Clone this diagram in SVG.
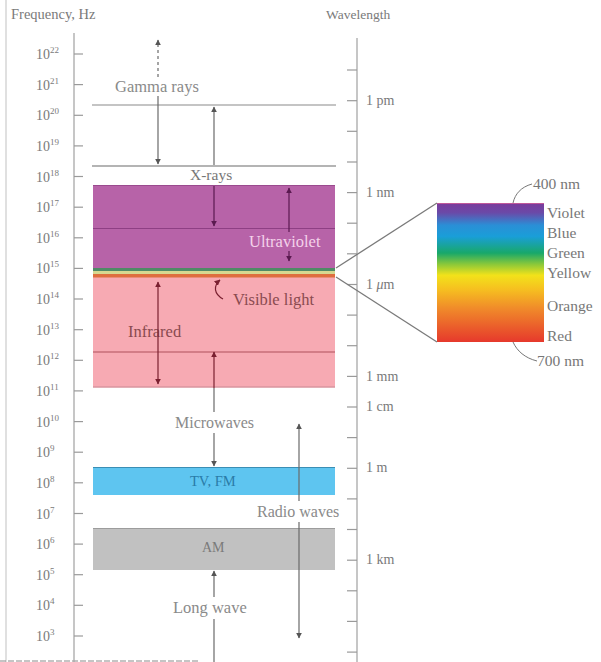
<svg xmlns="http://www.w3.org/2000/svg" width="601" height="662" viewBox="0 0 601 662">
<defs>
<style>
text{font-family:"Liberation Serif","Times New Roman",serif;}
.ax{fill:#7a7a7a;font-size:14px;}
.sup{font-size:9px;}
.lbl{font-size:15.5px;}
.gr{fill:#8a8a8a;}
.tick{stroke:#9a9a9a;stroke-width:1.2;}
.axis{stroke:#a8a8a8;stroke-width:1.3;fill:none;}
.arr{stroke:#6a6a6a;stroke-width:1.2;fill:none;}
.sp{fill:#777;font-size:15.5px;}
</style>
<marker id="ah" viewBox="0 0 10 10" refX="9" refY="5" markerWidth="6" markerHeight="6" orient="auto-start-reverse" markerUnits="userSpaceOnUse"><path d="M0,0 L10,5 L0,10 z" fill="#555"/></marker>
<marker id="ahp" viewBox="0 0 10 10" refX="9" refY="5" markerWidth="6" markerHeight="6" orient="auto-start-reverse" markerUnits="userSpaceOnUse"><path d="M0,0 L10,5 L0,10 z" fill="#5a1a50"/></marker>
<marker id="ahr" viewBox="0 0 10 10" refX="9" refY="5" markerWidth="6" markerHeight="6" orient="auto-start-reverse" markerUnits="userSpaceOnUse"><path d="M0,0 L10,5 L0,10 z" fill="#7a2030"/></marker>
<linearGradient id="spec" x1="0" y1="0" x2="0" y2="1">
<stop offset="0" stop-color="#7b3a9a"/>
<stop offset="0.07" stop-color="#6a4aa8"/>
<stop offset="0.16" stop-color="#2a8fd6"/>
<stop offset="0.24" stop-color="#1a9ed8"/>
<stop offset="0.36" stop-color="#18a86a"/>
<stop offset="0.44" stop-color="#8ac83a"/>
<stop offset="0.52" stop-color="#f2e21a"/>
<stop offset="0.62" stop-color="#f6c020"/>
<stop offset="0.76" stop-color="#f08a2a"/>
<stop offset="1" stop-color="#e6392c"/>
</linearGradient>
</defs>
<rect x="0" y="0" width="601" height="662" fill="#ffffff"/>
<line x1="6" y1="0" x2="6" y2="662" stroke="#d6d6d6" stroke-width="1.5"/>
<line x1="0" y1="661" x2="200" y2="661" stroke="#8a8a8a" stroke-width="1" stroke-dasharray="6,2"/>

<g id="freq-axis">
<text class="ax" x="11" y="19" style="font-size:14.5px">Frequency, Hz</text>
<line class="axis" x1="74" y1="33" x2="74" y2="662"/>
<g class="tick">
<line x1="74" y1="54" x2="83" y2="54"/><line x1="74" y1="84.6" x2="83" y2="84.6"/><line x1="74" y1="115.3" x2="83" y2="115.3"/><line x1="74" y1="145.9" x2="83" y2="145.9"/><line x1="74" y1="176.5" x2="83" y2="176.5"/><line x1="74" y1="207.2" x2="83" y2="207.2"/><line x1="74" y1="237.8" x2="83" y2="237.8"/><line x1="74" y1="268.4" x2="83" y2="268.4"/><line x1="74" y1="299" x2="83" y2="299"/><line x1="74" y1="329.7" x2="83" y2="329.7"/><line x1="74" y1="360.3" x2="83" y2="360.3"/><line x1="74" y1="390.9" x2="83" y2="390.9"/><line x1="74" y1="421.6" x2="83" y2="421.6"/><line x1="74" y1="452.2" x2="83" y2="452.2"/><line x1="74" y1="482.8" x2="83" y2="482.8"/><line x1="74" y1="513.5" x2="83" y2="513.5"/><line x1="74" y1="544.1" x2="83" y2="544.1"/><line x1="74" y1="574.7" x2="83" y2="574.7"/><line x1="74" y1="605.3" x2="83" y2="605.3"/><line x1="74" y1="636" x2="83" y2="636"/>
</g>
<text class="ax" x="36" y="59">10<tspan class="sup" dy="-6">22</tspan></text>
<text class="ax" x="36" y="89.6">10<tspan class="sup" dy="-6">21</tspan></text>
<text class="ax" x="36" y="120.3">10<tspan class="sup" dy="-6">20</tspan></text>
<text class="ax" x="36" y="150.9">10<tspan class="sup" dy="-6">19</tspan></text>
<text class="ax" x="36" y="181.5">10<tspan class="sup" dy="-6">18</tspan></text>
<text class="ax" x="36" y="212.2">10<tspan class="sup" dy="-6">17</tspan></text>
<text class="ax" x="36" y="242.8">10<tspan class="sup" dy="-6">16</tspan></text>
<text class="ax" x="36" y="273.4">10<tspan class="sup" dy="-6">15</tspan></text>
<text class="ax" x="36" y="304">10<tspan class="sup" dy="-6">14</tspan></text>
<text class="ax" x="36" y="334.7">10<tspan class="sup" dy="-6">13</tspan></text>
<text class="ax" x="36" y="365.3">10<tspan class="sup" dy="-6">12</tspan></text>
<text class="ax" x="36" y="395.9">10<tspan class="sup" dy="-6">11</tspan></text>
<text class="ax" x="36" y="426.6">10<tspan class="sup" dy="-6">10</tspan></text>
<text class="ax" x="36" y="457.2">10<tspan class="sup" dy="-6">9</tspan></text>
<text class="ax" x="36" y="487.8">10<tspan class="sup" dy="-6">8</tspan></text>
<text class="ax" x="36" y="518.5">10<tspan class="sup" dy="-6">7</tspan></text>
<text class="ax" x="36" y="549.1">10<tspan class="sup" dy="-6">6</tspan></text>
<text class="ax" x="36" y="579.7">10<tspan class="sup" dy="-6">5</tspan></text>
<text class="ax" x="36" y="610.3">10<tspan class="sup" dy="-6">4</tspan></text>
<text class="ax" x="36" y="641">10<tspan class="sup" dy="-6">3</tspan></text>
</g>

<g id="wave-axis">
<text class="ax" x="326" y="19" style="font-size:13.5px">Wavelength</text>
<line class="axis" x1="357" y1="38" x2="357" y2="662"/>
<g class="tick">
<line x1="347" y1="70" x2="357" y2="70"/><line x1="347" y1="100.7" x2="357" y2="100.7"/><line x1="347" y1="131.3" x2="357" y2="131.3"/><line x1="347" y1="162" x2="357" y2="162"/><line x1="347" y1="192.6" x2="357" y2="192.6"/><line x1="347" y1="223.2" x2="357" y2="223.2"/><line x1="347" y1="253.8" x2="357" y2="253.8"/><line x1="347" y1="284.5" x2="357" y2="284.5"/><line x1="347" y1="315.1" x2="357" y2="315.1"/><line x1="347" y1="345.7" x2="357" y2="345.7"/><line x1="347" y1="376.4" x2="357" y2="376.4"/><line x1="347" y1="407" x2="357" y2="407"/><line x1="347" y1="437.6" x2="357" y2="437.6"/><line x1="347" y1="468.3" x2="357" y2="468.3"/><line x1="347" y1="498.9" x2="357" y2="498.9"/><line x1="347" y1="529.5" x2="357" y2="529.5"/><line x1="347" y1="560.2" x2="357" y2="560.2"/><line x1="347" y1="590.8" x2="357" y2="590.8"/><line x1="347" y1="621.4" x2="357" y2="621.4"/><line x1="347" y1="652.1" x2="357" y2="652.1"/>
</g>
<text class="ax" x="366" y="105">1 pm</text>
<text class="ax" x="366" y="197">1 nm</text>
<text class="ax" x="366" y="289">1 <tspan font-style="italic">μ</tspan>m</text>
<text class="ax" x="366" y="381">1 mm</text>
<text class="ax" x="366" y="411">1 cm</text>
<text class="ax" x="366" y="472">1 m</text>
<text class="ax" x="366" y="564">1 km</text>
</g>

<g id="gamma">
<line x1="92" y1="105" x2="336" y2="105" stroke="#8a8a8a" stroke-width="1.2"/>
<text class="lbl gr" x="115" y="92" style="font-size:16.5px">Gamma rays</text>
</g>

<g id="xray">
<line x1="92" y1="166" x2="336" y2="166" stroke="#6a6a6a" stroke-width="1.2"/>
<text class="lbl" x="190" y="180" style="fill:#777">X-rays</text>
</g>

<g id="ultraviolet">
<rect x="93" y="185" width="242" height="83" fill="#b763a8"/>
<line x1="93" y1="185.5" x2="335" y2="185.5" stroke="#9a4a8e" stroke-width="1"/>
<line x1="93" y1="228.5" x2="335" y2="228.5" stroke="#8e3f84" stroke-width="1.2"/>
<text class="lbl" x="249" y="247" style="fill:#f4d2ea;font-size:16.5px">Ultraviolet</text>
</g>

<g id="infrared">
<rect x="93" y="277" width="242" height="110.5" fill="#f7aab3"/>
<line x1="93" y1="352" x2="335" y2="352" stroke="#b0505c" stroke-width="1.2"/>
<line x1="93" y1="387" x2="335" y2="387" stroke="#c98a94" stroke-width="1"/>
<text class="lbl" x="128" y="337" style="fill:#8a4a50;font-size:16.5px">Infrared</text>
</g>

<g id="visible">
<rect x="93" y="268" width="242" height="3" fill="#4f8a66"/>
<rect x="93" y="271" width="242" height="3" fill="#d6d890"/>
<rect x="93" y="274" width="242" height="3.5" fill="#de6e3e"/>
<text class="lbl" x="233" y="305" style="fill:#8a4a50;font-size:16.5px">Visible light</text>
</g>

<g id="microwaves">
<text class="lbl gr" x="175" y="428" style="font-size:16px">Microwaves</text>
</g>

<g id="tvfm">
<rect x="93" y="467" width="242" height="28" fill="#5ec5f0"/>
<line x1="93" y1="467.5" x2="335" y2="467.5" stroke="#3a8eb4" stroke-width="1"/>
<text class="lbl" x="190" y="486" style="fill:#2a7ca8;font-size:14.5px">TV, FM</text>
</g>

<g id="radio">
<text class="lbl gr" x="257" y="517" style="font-size:16px">Radio waves</text>
</g>

<g id="am">
<rect x="93" y="528" width="242" height="42" fill="#c1c1c1"/>
<line x1="93" y1="528.5" x2="335" y2="528.5" stroke="#9c9c9c" stroke-width="1"/>
<text class="lbl" x="202" y="552" style="fill:#7a7a7a;font-size:14px">AM</text>
</g>

<g id="longwave">
<text class="lbl gr" x="173" y="613" style="font-size:16.5px">Long wave</text>
</g>

<g id="spectrum">
<rect x="437" y="203" width="107" height="139" fill="url(#spec)"/>
<line x1="437" y1="203.5" x2="544" y2="203.5" stroke="#c0589a" stroke-width="1"/>
<text class="sp" x="533" y="189">400 nm</text>
<text class="sp" x="537" y="366">700 nm</text>
<text class="sp" x="547" y="218">Violet</text>
<text class="sp" x="547" y="238">Blue</text>
<text class="sp" x="547" y="258">Green</text>
<text class="sp" x="547" y="278">Yellow</text>
<text class="sp" x="547" y="311">Orange</text>
<text class="sp" x="547" y="341">Red</text>
</g>

<g id="connectors">
<line class="arr" x1="158" y1="44" x2="158" y2="80" stroke-dasharray="3,3"/>
<line class="arr" x1="158" y1="40" x2="158" y2="44" marker-start="url(#ah)"/>
<line class="arr" x1="158" y1="96" x2="158" y2="164" marker-end="url(#ah)"/>
<line class="arr" x1="214" y1="107" x2="214" y2="165"  marker-start="url(#ah)"/>
<line x1="214" y1="186" x2="214" y2="226" stroke="#5a1a50" stroke-width="1.2" marker-end="url(#ahp)"/>
<line x1="289" y1="188" x2="289" y2="232" stroke="#5a1a50" stroke-width="1.2" marker-start="url(#ahp)"/>
<line x1="289" y1="251" x2="289" y2="261" stroke="#5a1a50" stroke-width="1.2" marker-end="url(#ahp)"/>
<line x1="158" y1="282" x2="158" y2="384" stroke="#7a2030" stroke-width="1.2" marker-start="url(#ahr)" marker-end="url(#ahr)"/>
<path d="M223,299 C214,294 213,286 220,280" stroke="#7a2030" stroke-width="1.2" fill="none" marker-end="url(#ahr)"/>
<line x1="214" y1="352" x2="214" y2="388" stroke="#7a2030" stroke-width="1.2" marker-start="url(#ahr)"/>
<line class="arr" x1="214" y1="388" x2="214" y2="412"/>
<line class="arr" x1="214" y1="433" x2="214" y2="466" marker-end="url(#ah)"/>
<line class="arr" x1="299" y1="424" x2="299" y2="501" marker-start="url(#ah)"/>
<line class="arr" x1="299" y1="522" x2="299" y2="638" marker-end="url(#ah)"/>
<line class="arr" x1="214" y1="571" x2="214" y2="597" marker-start="url(#ah)"/>
<line class="arr" x1="214" y1="619" x2="214" y2="662"/>
<line x1="336" y1="268" x2="437" y2="203" stroke="#7a7a7a" stroke-width="1.3"/>
<line x1="336" y1="277" x2="437" y2="342" stroke="#7a7a7a" stroke-width="1.3"/>
<path d="M513,203 C515,194 521,187 532,184" stroke="#777" stroke-width="1" fill="none"/>
<path d="M513,342 C517,351 525,358 537,361" stroke="#777" stroke-width="1" fill="none"/>
</g>
</svg>
